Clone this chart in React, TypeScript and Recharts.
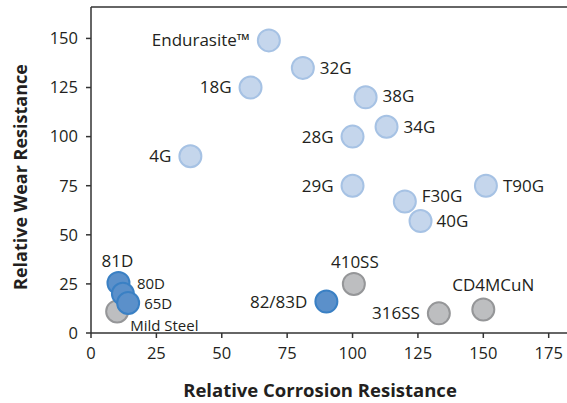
import { ScatterChart, Scatter, XAxis, YAxis, ReferenceLine, Label } from "recharts"

const lightNames = ["Endurasite™", "18G", "4G", "32G", "38G", "34G", "28G", "29G", "T90G", "F30G", "40G"]
const lightX = [68, 61, 38, 81, 105, 113, 100, 100, 151, 120, 126]
const lightY = [149, 125, 90, 135, 120, 105, 100, 75, 75, 67, 57]

const grayNames = ["Mild Steel", "410SS", "316SS", "CD4MCuN"]
const grayX = [10, 100.5, 133, 150]
const grayY = [11, 25, 10, 12]

const darkNames = ["81D", "80D", "65D", "82/83D"]
const darkX = [10.5, 12.2, 14.2, 90]
const darkY = [25.5, 20, 15.3, 16]

const xTicks = [0, 25, 50, 75, 100, 125, 150, 175]
const yTicks = [0, 25, 50, 75, 100, 125, 150]

// where each label sits relative to its marker (size only set for the crowded cluster)
const labelPlace: Record<string, { dx: number; dy: number; anchor: "start" | "middle" | "end"; size?: number }> = {
  "Endurasite™": { dx: -19, dy: 0, anchor: "end" },
  "18G": { dx: -19, dy: 0, anchor: "end" },
  "4G": { dx: -19, dy: 0, anchor: "end" },
  "32G": { dx: 17, dy: 0, anchor: "start" },
  "38G": { dx: 17, dy: -1, anchor: "start" },
  "34G": { dx: 17, dy: 0, anchor: "start" },
  "28G": { dx: -19, dy: 0, anchor: "end" },
  "29G": { dx: -19, dy: 0, anchor: "end" },
  "T90G": { dx: 17, dy: 0, anchor: "start" },
  "F30G": { dx: 17, dy: -5, anchor: "start" },
  "40G": { dx: 16, dy: 0, anchor: "start" },
  "Mild Steel": { dx: 13, dy: 14, anchor: "start", size: 15 },
  "410SS": { dx: 1, dy: -22, anchor: "middle" },
  "316SS": { dx: -19, dy: 0, anchor: "end" },
  "CD4MCuN": { dx: 10, dy: -24, anchor: "middle" },
  "81D": { dx: -1, dy: -22, anchor: "middle" },
  "80D": { dx: 14, dy: -10, anchor: "start", size: 15 },
  "65D": { dx: 16, dy: 1, anchor: "start", size: 15 },
  "82/83D": { dx: -19, dy: 0, anchor: "end" },
}

const font = "'Open Sans', sans-serif"
const ink = "#231f20"

const toRows = (names: string[], xs: number[], ys: number[]) =>
  names.map((name, i) => ({ name, x: xs[i], y: ys[i] }))

const makeDot = (fill: string, stroke: string) => (props: any) => {
  const { cx, cy, payload } = props
  const p = labelPlace[payload.name]
  return (
    <g>
      <circle cx={cx} cy={cy} r={11} fill={fill} stroke={stroke} strokeWidth={2} />
      <text
        x={cx + p.dx}
        y={cy + p.dy}
        dy="0.35em"
        textAnchor={p.anchor}
        fontSize={p.size ?? 17}
        fontFamily={font}
        fill={ink}
      >
        {payload.name}
      </text>
    </g>
  )
}

export default function App() {
  return (
    <div style={{ position: "absolute", left: 0, top: 0, background: "#fff" }}>
      <ScatterChart width={567} height={403} margin={{ top: 7, right: 0, bottom: 0, left: 0 }}>
        <XAxis
          type="number"
          dataKey="x"
          domain={[0, 182]}
          ticks={xTicks}
          allowDataOverflow
          height={70}
          stroke="#333"
          strokeWidth={1.5}
          tickSize={5}
          tickMargin={9}
          tick={{ fill: ink, fontSize: 16.5, fontFamily: font }}
        >
          <Label
            content={() => (
              <text x={320} y={397} textAnchor="middle" fontSize={18.5} fontWeight={700} fontFamily={font} fill={ink}>
                Relative Corrosion Resistance
              </text>
            )}
          />
        </XAxis>
        <YAxis
          type="number"
          dataKey="y"
          domain={[0, 166]}
          ticks={yTicks}
          allowDataOverflow
          width={91}
          stroke="#333"
          strokeWidth={1.5}
          tickSize={5}
          tickMargin={8}
          tick={{ fill: ink, fontSize: 16.5, fontFamily: font }}
        >
          <Label
            content={() => (
              <text
                x={27}
                y={177}
                transform="rotate(-90 27 177)"
                textAnchor="middle"
                fontSize={18}
                fontWeight={700}
                fontFamily={font}
                fill={ink}
              >
                Relative Wear Resistance
              </text>
            )}
          />
        </YAxis>
        <ReferenceLine y={166} stroke="#333" strokeWidth={1.5} />
        <Scatter
          data={toRows(lightNames, lightX, lightY)}
          shape={makeDot("#c5d6ec", "#a6c2e4")}
          isAnimationActive={false}
        />
        <Scatter
          data={toRows(grayNames, grayX, grayY)}
          shape={makeDot("#bdbec0", "#959698")}
          isAnimationActive={false}
        />
        <Scatter
          data={toRows(darkNames, darkX, darkY)}
          shape={makeDot("#5b90ca", "#3a80c4")}
          isAnimationActive={false}
        />
      </ScatterChart>
    </div>
  )
}
